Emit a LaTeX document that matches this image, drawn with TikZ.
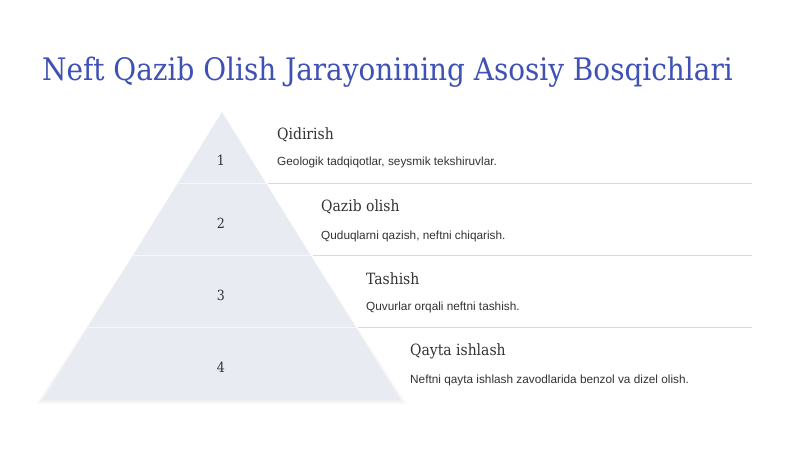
\documentclass[tikz,border=0pt]{standalone}
\usepackage{fontspec}
\setmainfont{DejaVu Serif}
\setsansfont{Liberation Sans}
\newfontfamily\slabfont{DejaVu Serif Condensed}
\usetikzlibrary{positioning}
\definecolor{titleblue}{HTML}{3F51B5}
\definecolor{pyrfill}{HTML}{E8EBF2}
\definecolor{sepline}{HTML}{D5DBE4}
\definecolor{txt}{HTML}{333333}
\tikzset{
  heading/.style={anchor=west, inner sep=0pt, text=txt, font=\slabfont\fontsize{15.5}{18}\selectfont},
  desc/.style={anchor=west, inner sep=0pt, text=txt, font=\sffamily\fontsize{11.8}{14}\selectfont},
  num/.style={inner sep=0pt, text=txt, font=\slabfont\fontsize{14}{16}\selectfont},
  sep/.style={draw=sepline, line width=1pt},
}
\begin{document}
\begin{tikzpicture}[x=1pt,y=-1pt]
\useasboundingbox (0,0) rectangle (800,450);
\fill[white] (0,0) rectangle (800,450);
% title
\node[anchor=west, inner sep=0pt, text=titleblue, font=\slabfont\fontsize{31}{36}\selectfont] (title) at (42,72) {Neft Qazib Olish Jarayonining Asosiy Bosqichlari};
% pyramid soft shadow
\foreach \o in {1,2,...,8}{
  \fill[black, opacity=0.008] (222,112+\o) -- (400+\o,400+\o*0.6) -- (43-\o,400+\o*0.6) -- cycle;
}
% pyramid
\coordinate (apex) at (222,112);
\coordinate (bl) at (43,400);
\coordinate (br) at (400,400);
\fill[pyrfill] (apex) -- (br) -- (bl) -- cycle;
% band boundaries inside pyramid
\foreach \yy in {183,255,327}{
  \pgfmathsetmacro{\dx}{(\yy-112)*0.621}
  \draw[white, opacity=0.6, line width=1pt] (222-\dx,\yy) -- (222+\dx,\yy);
}
% numbers
\node[num] (n1) at (221,160) {1};
\node[num] (n2) at (221,223) {2};
\node[num] (n3) at (221,295) {3};
\node[num] (n4) at (221,367) {4};
% separators
\coordinate (s1a) at (268,183); \coordinate (s1b) at (752,183);
\coordinate (s2a) at (313,255); \coordinate (s2b) at (752,255);
\coordinate (s3a) at (358,327); \coordinate (s3b) at (752,327);
\draw[sep] (s1a) -- (s1b);
\draw[sep] (s2a) -- (s2b);
\draw[sep] (s3a) -- (s3b);
% texts
\node[heading] (h1) at (277,135) {Qidirish};
\node[desc] (d1) at (277,162) {Geologik tadqiqotlar, seysmik tekshiruvlar.};
\node[heading] (h2) at (321,207) {Qazib olish};
\node[desc] (d2) at (321,236) {Quduqlarni qazish, neftni chiqarish.};
\node[heading] (h3) at (366,279) {Tashish};
\node[desc] (d3) at (366,307) {Quvurlar orqali neftni tashish.};
\node[heading] (h4) at (410,351) {Qayta ishlash};
\node[desc] (d4) at (410,380) {Neftni qayta ishlash zavodlarida benzol va dizel olish.};
\end{tikzpicture}
\end{document}
